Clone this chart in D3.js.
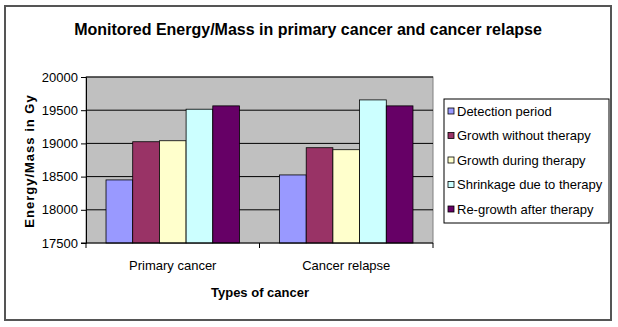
<!DOCTYPE html>
<html lang="en">
<head>
<meta charset="UTF-8">
<title>Monitored Energy/Mass</title>
<script src="https://d3js.org/d3.v7.min.js"></script>
<style>
  body { margin: 0; background: #fff; }
  svg { font-family: "Liberation Sans", Arial, sans-serif; }
</style>
</head>
<body>
<script>
  const categories = ["Primary cancer", "Cancer relapse"]
  const seriesNames = ["Detection period", "Growth without therapy", "Growth during therapy",
                       "Shrinkage due to therapy", "Re-growth after therapy"]
  const detection  = [18450, 18525]
  const growthNo   = [19025, 18935]
  const growthDur  = [19040, 18905]
  const shrinkage  = [19515, 19655]
  const regrowth   = [19565, 19565]
  const yTicks = [17500, 18000, 18500, 19000, 19500, 20000]
  const colors = ["#9999ff", "#993366", "#ffffcc", "#ccffff", "#660066"]

  const series = [detection, growthNo, growthDur, shrinkage, regrowth]

  const W = 618, H = 327
  const plot = {left: 86, right: 433, top: 77, bottom: 243}

  const svg = d3.select("body").append("svg")
    .attr("width", W).attr("height", H)

  // outer frame
  svg.append("rect")
    .attr("x", 5).attr("y", 6).attr("width", 606).attr("height", 314)
    .attr("fill", "#fff").attr("stroke", "#555").attr("stroke-width", 2)

  svg.append("text")
    .attr("x", 308).attr("y", 35)
    .attr("text-anchor", "middle")
    .attr("font-size", 16).attr("font-weight", "bold")
    .text("Monitored Energy/Mass in primary cancer and cancer relapse")

  const x0 = d3.scaleBand().domain(categories).range([plot.left, plot.right])
  const x1 = d3.scaleBand().domain(d3.range(series.length))
    .range([0, x0.bandwidth()]).paddingOuter(0.75).paddingInner(0)
  const y = d3.scaleLinear().domain([17500, 20000]).range([plot.bottom, plot.top])

  svg.append("rect")
    .attr("x", plot.left).attr("y", plot.top)
    .attr("width", plot.right - plot.left).attr("height", plot.bottom - plot.top)
    .attr("fill", "#c0c0c0").attr("stroke", "#808080").attr("stroke-width", 1)

  svg.append("g").selectAll("line")
    .data(yTicks.slice(1))
    .join("line")
      .attr("x1", plot.left).attr("x2", plot.right)
      .attr("y1", d => y(d)).attr("y2", d => y(d))
      .attr("stroke", "#000").attr("stroke-width", 1)

  const groups = svg.append("g").selectAll("g")
    .data(categories)
    .join("g")
      .attr("transform", d => `translate(${x0(d)},0)`)

  groups.selectAll("rect")
    .data((d, i) => series.map((s, k) => ({k: k, v: s[i]})))
    .join("rect")
      .attr("x", d => x1(d.k))
      .attr("width", x1.bandwidth())
      .attr("y", d => y(d.v))
      .attr("height", d => y(17500) - y(d.v))
      .attr("fill", d => colors[d.k])
      .attr("stroke", "#000").attr("stroke-width", 0.8)

  // value axis
  const yAxis = svg.append("g")
    .attr("transform", `translate(${plot.left},0)`)
    .call(d3.axisLeft(y).tickValues(yTicks).tickSize(5).tickPadding(3).tickFormat(d3.format("d")))
  yAxis.select(".domain").attr("stroke", "#000")
  yAxis.selectAll("text").attr("font-size", 13).attr("font-family", "Liberation Sans, Arial, sans-serif")

  // category axis
  const xAxis = svg.append("g")
    .attr("transform", `translate(0,${plot.bottom})`)
  xAxis.append("line")
    .attr("x1", plot.left - 5).attr("x2", plot.right)
    .attr("stroke", "#000")
  xAxis.selectAll("line.tick")
    .data([plot.left, x0(categories[1]), plot.right])
    .join("line").attr("class", "tick")
      .attr("x1", d => d).attr("x2", d => d)
      .attr("y1", 0).attr("y2", 5)
      .attr("stroke", "#000")
  xAxis.selectAll("text")
    .data(categories)
    .join("text")
      .attr("x", d => x0(d) + x0.bandwidth() / 2)
      .attr("y", 27)
      .attr("text-anchor", "middle")
      .attr("font-size", 13)
      .text(d => d)

  svg.append("text")
    .attr("x", 260).attr("y", 297)
    .attr("text-anchor", "middle")
    .attr("font-size", 13).attr("font-weight", "bold")
    .text("Types of cancer")

  svg.append("text")
    .attr("transform", "translate(34,161) rotate(-90)")
    .attr("text-anchor", "middle")
    .attr("font-size", 13).attr("font-weight", "bold")
    .attr("letter-spacing", 1)
    .text("Energy/Mass in Gy")

  // legend
  const legend = svg.append("g")
  legend.append("rect")
    .attr("x", 444).attr("y", 99).attr("width", 165).attr("height", 124)
    .attr("fill", "#fff").attr("stroke", "#000")
  const item = legend.selectAll("g")
    .data(seriesNames)
    .join("g")
      .attr("transform", (d, i) => `translate(448,${111 + i * 24.5})`)
  item.append("rect")
    .attr("x", 0).attr("y", -3).attr("width", 6).attr("height", 6)
    .attr("fill", (d, i) => colors[i]).attr("stroke", "#000").attr("stroke-width", 0.8)
  item.append("text")
    .attr("x", 9).attr("y", 4.5)
    .attr("font-size", 13)
    .text(d => d)
</script>
</body>
</html>
